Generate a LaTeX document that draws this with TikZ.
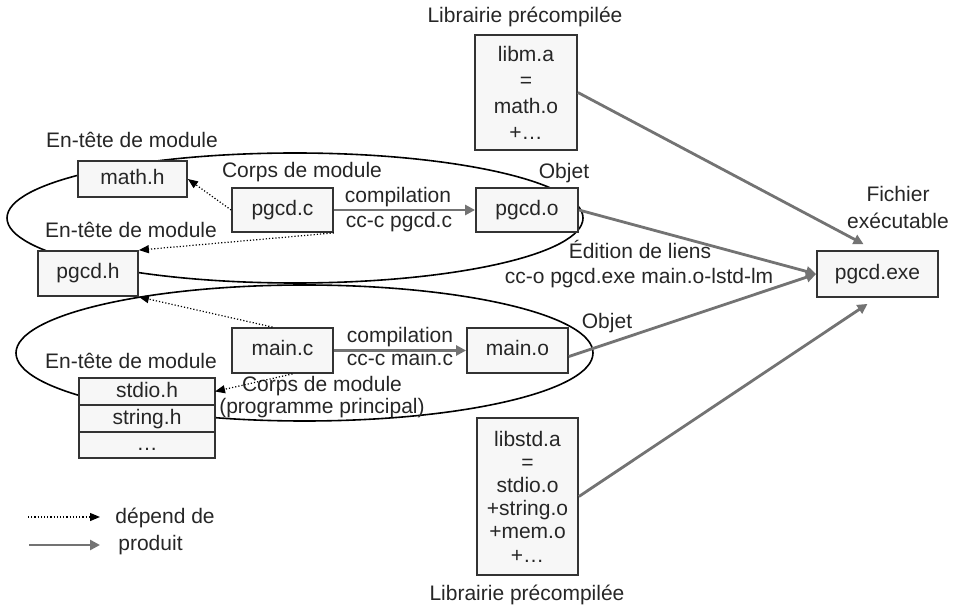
\documentclass[tikz,border=0pt]{standalone}
\usepackage{fontspec}
\setmainfont{Liberation Sans}
\usetikzlibrary{arrows.meta,positioning}
\definecolor{boxfill}{gray}{0.97}
\definecolor{prodgray}{gray}{0.45}

\begin{document}
\begin{tikzpicture}[%
      x=0.5pt, y=-0.5pt,
      every node/.style={font=\fontsize{10.5}{12.6}\selectfont, text=black!85},
      fichier/.style={draw=black!80, line width=0.9pt, fill=boxfill, inner sep=0pt,
                      text height=7.6pt, text depth=2.1pt},
      lbl/.style={inner sep=0pt, text height=7.6pt, text depth=2.1pt},
      depend/.style={densely dotted, line width=0.6pt, -{Triangle[length=5pt,width=4pt]}},
      produit/.style={color=prodgray, line width=1.4pt, -{Triangle[length=5pt,width=5pt]}},
      ]
      \useasboundingbox (0,0) rectangle (959,609);

      % modules
      \draw [line width=0.8pt] (295,218) ellipse [x radius=144pt, y radius=32.5pt];
      \draw [line width=0.8pt] (304.5,353) ellipse [x radius=144.25pt, y radius=34pt];

      \node [fichier, minimum width=54.5pt, minimum height=18pt] (mathh) at (132.5,179) {math.h};
      \node [fichier, minimum width=50.5pt, minimum height=22pt] (pgcdc) at (282.5,210) {pgcd.c};
      \node [fichier, minimum width=51pt, minimum height=22pt] (pgcdo) at (527,210) {pgcd.o};
      \node [fichier, minimum width=50pt, minimum height=22.5pt] (pgcdh) at (88,273.5) {pgcd.h};
      \node [fichier, minimum width=60.5pt, minimum height=23pt] (pgcdexe) at (877.5,274) {pgcd.exe};
      \node [fichier, minimum width=50.5pt, minimum height=22.5pt] (mainc) at (282.5,350.5) {main.c};
      \node [fichier, minimum width=50.5pt, minimum height=22.5pt] (maino) at (517.5,350.5) {main.o};

      \node [fichier, outer sep=0pt, minimum width=68pt, minimum height=13.5pt] (stdioh) at (147,391.5) {stdio.h};
      \node [fichier, outer sep=0pt, minimum width=68pt, minimum height=13.5pt, below=0pt of stdioh] (stringh) {string.h};
      \node [fichier, outer sep=0pt, minimum width=68pt, minimum height=13pt, below=0pt of stringh] (autresh) {…};

      % librairies
      \node [fichier, align=center, text height=, text depth=, minimum width=51pt, minimum height=57.5pt,
             font=\fontsize{10.5}{13}\selectfont] (libm) at (526,92.5) {libm.a\\=\\math.o\\+…};
      \node [fichier, align=center, text height=, text depth=, minimum width=50.5pt, minimum height=78.5pt,
             font=\fontsize{10.5}{11.6}\selectfont] (libstd) at (527.5,496.5) {libstd.a\\=\\stdio.o\\+string.o\\+mem.o\\+…};

      \node [lbl] (titrelibm) at (525,17) {Librairie précompilée};
      \node [lbl] (titrelibstd) at (527,595) {Librairie précompilée};
      \node [lbl] (enteteA) at (132,142) {En-tête de module};
      \node [lbl] (enteteB) at (131,232) {En-tête de module};
      \node [lbl] (enteteC) at (131,363) {En-tête de module};
      \node [lbl] (corpsA) at (302,172) {Corps de module};
      \node [align=center, inner sep=0pt, font=\fontsize{10.5}{11}\selectfont] (corpsB) at (322,397)
            {Corps de module\\(programme principal)};
      \node [lbl] (objetA) at (564,173) {Objet};
      \node [lbl] (objetB) at (607,323) {Objet};
      \node [lbl] (compilA) at (398,197) {compilation};
      \node [lbl] (ccA) at (399,222) {cc-c pgcd.c};
      \node [lbl] (compilB) at (400,337) {compilation};
      \node [lbl] (ccB) at (400,360) {cc-c main.c};
      \node [lbl] (edition) at (640,253) {Édition de liens};
      \node [lbl] (ccedit) at (639,278) {cc-o pgcd.exe main.o-lstd-lm};
      \node [align=center, inner sep=0pt, font=\fontsize{10.5}{13.5}\selectfont] (fichexe) at (898,207)
            {Fichier\\exécutable};

      % dependances
      \draw [depend] (pgcdc.west) -- (mathh.east);
      \draw [depend] (pgcdc.south east) -- (pgcdh.north east);
      \draw [depend] ([xshift=-5pt]mainc.north) -- (pgcdh.south east);
      \draw [depend] ([xshift=5pt]mainc.south) -- (stdioh.east);

      % compilation et edition de liens
      \draw [produit] (pgcdc) -- (pgcdo);
      \draw [produit] (mainc) -- (maino);
      \draw [produit] (libm.east) -- ([shift={(-7pt,3pt)}]pgcdexe.north);
      \draw [produit] (pgcdo.east) -- (pgcdexe.west);
      \draw [produit] ([yshift=-3pt]maino.east) -- (pgcdexe.west);
      \draw [produit] (libstd.east) -- ([shift={(-5pt,-3pt)}]pgcdexe.south);

      % legende
      \coordinate (depA) at (28,517);
      \coordinate (depB) at (100,517);
      \coordinate (prodA) at (29,545);
      \coordinate (prodB) at (100,545);
      \draw [depend] (depA) -- (depB);
      \draw [produit] (prodA) -- (prodB);
      \node [lbl, anchor=west] (legdep) at (115,518) {dépend de};
      \node [lbl, anchor=west] (legprod) at (118,545) {produit};
\end{tikzpicture}
\end{document}
